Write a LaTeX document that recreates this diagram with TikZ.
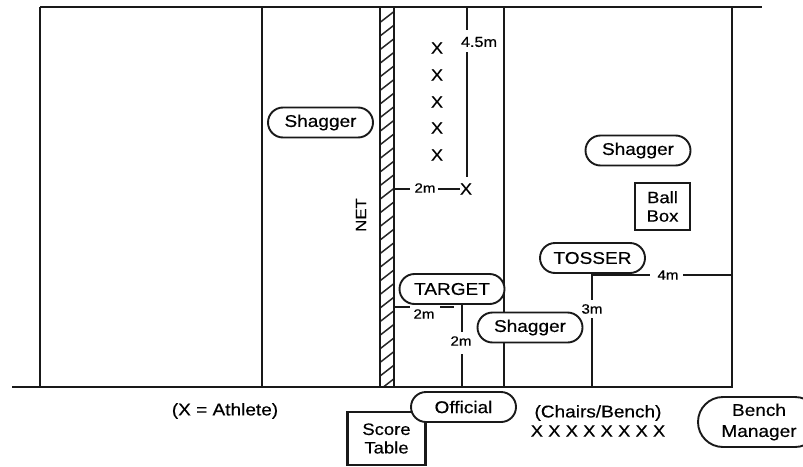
\documentclass[tikz,border=0pt]{standalone}
\usepackage{fontspec}
\setmainfont[FakeStretch=1.12,FakeBold=0.4]{Liberation Sans}
\usetikzlibrary{shapes.misc}
\tikzset{
  courtline/.style={line width=2.1pt,black!90},
  pill/.style={rounded rectangle,draw=black!90,line width=1.9pt,fill=white,minimum width=#1,minimum height=30pt,inner sep=0pt,font=\fontsize{17}{19}\selectfont},
  pill/.default=105pt,
  boxed/.style={rectangle,draw=black!90,line width=2.1pt,fill=white,inner sep=0pt,align=center,font=\fontsize{16.5}{18.5}\selectfont},
  dimlabel/.style={inner sep=0pt,font=\fontsize{13.5}{14}\selectfont},
  caption/.style={inner sep=0pt,font=\fontsize{17}{19}\selectfont},
  markx/.style={inner sep=0pt,font=\fontsize{16}{16}\selectfont},
  hatchline/.style={line width=1.5pt,black!85}
}
\begin{document}
\begin{tikzpicture}[x=1pt,y=-1pt]
\useasboundingbox (0,0) rectangle (803,466);
\clip (0,0) rectangle (803,466);
% court anchors
\coordinate (tl) at (40,7);
\coordinate (tr) at (762,7);
\coordinate (bl) at (12,387);
\coordinate (br) at (733,387);
\coordinate (c1t) at (262,7);
\coordinate (c1b) at (262,387);
\coordinate (c2t) at (504,7);
\coordinate (c2b) at (504,387);
\coordinate (c3t) at (732,7);
\coordinate (c3b) at (732,387);
\coordinate (lb) at (40,387);
% net
\coordinate (n1) at (380,7);
\coordinate (n2) at (394,387);
\begin{scope}
\clip (n1) rectangle (n2);
\foreach \k in {0,...,28}{
  \draw[hatchline] (378,{24+13.6*\k}) -- (396,{10+13.6*\k});
}
\end{scope}
\draw[courtline] (n1) rectangle (n2);
\draw[courtline] (tl) -- (tr);
\draw[courtline] (bl) -- (br);
\draw[courtline] (tl) -- (lb);
\draw[courtline] (c1t) -- (c1b);
\draw[courtline] (c2t) -- (c2b);
\draw[courtline] (c3t) -- (c3b);
% text marks
\node[rotate=90,inner sep=0pt,font=\fontsize{15}{16}\selectfont] (net) at (361,215) {NET};
\foreach \n/\y in {a/48,b/75,c/102,d/128,e/155}{
  \node[markx] (x\n) at (437,\y) {X};
}
\node[markx] (xf) at (466,189) {X};
% people and boxes
\node[pill] (shagL) at (320.5,122.5) {Shagger};
\node[pill] (shagR) at (638,150.5) {Shagger};
\node[boxed,minimum width=55pt,minimum height=47pt] (ball) at (662.5,206.5) {Ball\\Box};
\node[pill] (tosser) at (592.5,258) {TOSSER};
\node[pill] (target) at (452,289) {TARGET};
\node[pill] (shagM) at (530,327.5) {Shagger};
\node[boxed,minimum width=78pt,minimum height=53pt] (score) at (386.5,438.5) {Score\\Table};
\node[pill] (official) at (463.5,407) {Official};
\node[pill=122pt,minimum height=50pt,align=center,font=\fontsize{17}{21}\selectfont] (bench) at (759,422) {Bench\\Manager};
% captions
\node[caption] (athlete) at (225,411) {(X = Athlete)};
\node[caption] (chairs) at (598,413) {(Chairs/Bench)};
\node[inner sep=0pt,font=\fontsize{16.5}{18}\selectfont] (seats) at (598,431) {X X X X X X X X};
% dimension labels
\node[dimlabel,font=\fontsize{14.5}{15}\selectfont] (d45) at (479,42) {4.5m};
\node[dimlabel] (d2a) at (425,188) {2m};
\node[dimlabel] (d2b) at (424,314) {2m};
\node[dimlabel] (d2c) at (461,341) {2m};
\node[dimlabel] (d3) at (592,309) {3m};
\node[dimlabel] (d4) at (668,275) {4m};
% free ends
\coordinate (a45) at (467,7);
\coordinate (a45b) at (467,30);
\coordinate (a45c) at (467,52);
\coordinate (a45d) at (467,177);
\coordinate (a2) at (394,189);
\coordinate (a2b) at (410,189);
\coordinate (a2c) at (438,189);
\coordinate (t1) at (394,307);
\coordinate (t2) at (410,307);
\coordinate (t3) at (440,307);
\coordinate (t4) at (454,307);
\coordinate (t5) at (462,304);
\coordinate (t6) at (462,332);
\coordinate (t7) at (462,354);
\coordinate (t8) at (462,387);
\coordinate (s1) at (592,273);
\coordinate (s2) at (592,300);
\coordinate (s3) at (592,318);
\coordinate (s4) at (592,387);
\coordinate (s5) at (650,275);
\coordinate (s6) at (683,275);
\coordinate (s7) at (732,275);
\draw[courtline] (a45) -- (a45b);
\draw[courtline] (a45c) -- (a45d);
\draw[courtline] (a2) -- (a2b);
\draw[courtline] (a2c) -- (xf.west);
\draw[courtline] (t1) -- (t2);
\draw[courtline] (t3) -- (t4);
\draw[courtline] (t5) -- (t6);
\draw[courtline] (t7) -- (t8);
\draw[courtline] (s1) -- (s2);
\draw[courtline] (s3) -- (s4);
\draw[courtline] (s1 |- s5) -- (s5);
\draw[courtline] (s6) -- (s7);
\end{tikzpicture}
\end{document}
